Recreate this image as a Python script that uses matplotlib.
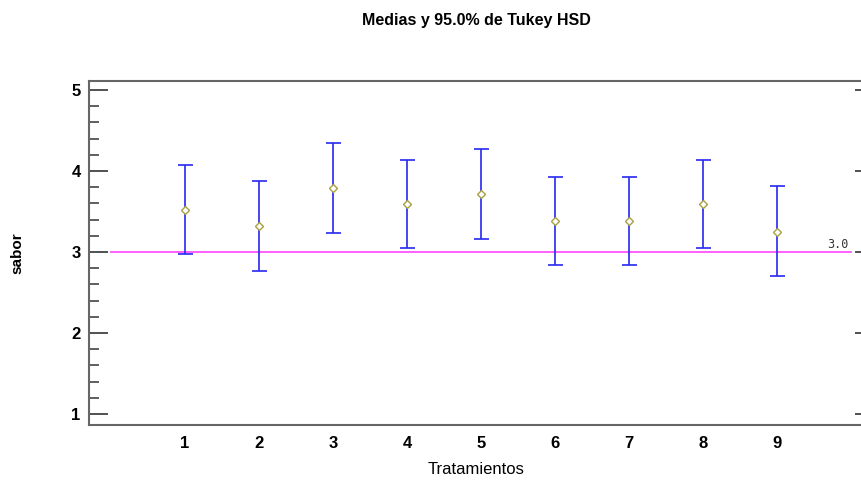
import matplotlib.pyplot as plt
from matplotlib.ticker import MultipleLocator

plt.rcParams['font.family'] = ['Liberation Sans', 'DejaVu Sans']

# Medias por tratamiento e intervalos Tukey HSD al 95%
tratamientos = [1, 2, 3, 4, 5, 6, 7, 8, 9]
medias = [3.52, 3.32, 3.79, 3.59, 3.72, 3.38, 3.38, 3.59, 3.25]
inferior = [2.98, 2.77, 3.235, 3.045, 3.165, 2.84, 2.84, 3.045, 2.70]
superior = [4.07, 3.88, 4.34, 4.14, 4.27, 3.93, 3.93, 4.14, 3.81]
referencia = 3.0

err_bajo = [m - lo for m, lo in zip(medias, inferior)]
err_alto = [hi - m for m, hi in zip(medias, superior)]

fig = plt.figure(figsize=(8.62, 4.8), dpi=100)
ax = fig.add_axes([0.1032, 0.1146, 0.8985, 0.7167])

# línea de referencia
ax.plot([0, 10], [referencia, referencia], color='#ff44ff', lw=1.2, zorder=1)
ax.text(9.97, referencia + 0.015, f'{referencia:.1f}', fontsize=8.5, family='DejaVu Sans Mono',
        ha='right', va='bottom', color='#333333')

ax.errorbar(tratamientos, medias, yerr=[err_bajo, err_alto], fmt='none',
            ecolor='#2828f0', elinewidth=1.2, capsize=5.4, capthick=1.2, zorder=2)
ax.plot(tratamientos, medias, 'D', ms=4.5, mfc='white', mec='#a8a040', mew=1, zorder=3)

ax.set_xlim(-0.30, 10.17)
ax.set_ylim(0.864, 5.11)

ax.set_xticks(tratamientos)
ax.set_xticklabels([str(t) for t in tratamientos], fontsize=12, fontweight='bold')
ax.tick_params(axis='x', length=0, pad=8)

ax.yaxis.set_major_locator(MultipleLocator(1))
ax.yaxis.set_minor_locator(MultipleLocator(0.2))
ax.tick_params(axis='y', which='major', direction='in', length=14, width=1.2,
               color='#333333', labelsize=12, pad=6)
ax.tick_params(axis='y', which='minor', direction='in', length=7, width=1.2, color='#444444')
for lbl in ax.get_yticklabels():
    lbl.set_fontweight('bold')

# marcas cortas en el lado derecho
sec = ax.secondary_yaxis('right')
sec.yaxis.set_major_locator(MultipleLocator(1))
sec.tick_params(direction='in', length=6, width=1.2, color='#333333', labelright=False)
sec.spines['right'].set_visible(False)

for s in ax.spines.values():
    s.set_color('#666666')
    s.set_linewidth(1.5)
ax.spines['right'].set_visible(False)

ax.set_xlabel('Tratamientos', fontsize=12, labelpad=8)
ax.set_ylabel('sabor', fontsize=11, fontweight='bold', labelpad=34)
ax.set_title('Medias y 95.0% de Tukey HSD', fontsize=11.5, fontweight='bold', pad=40)

fig.savefig('out.png', dpi=100)
